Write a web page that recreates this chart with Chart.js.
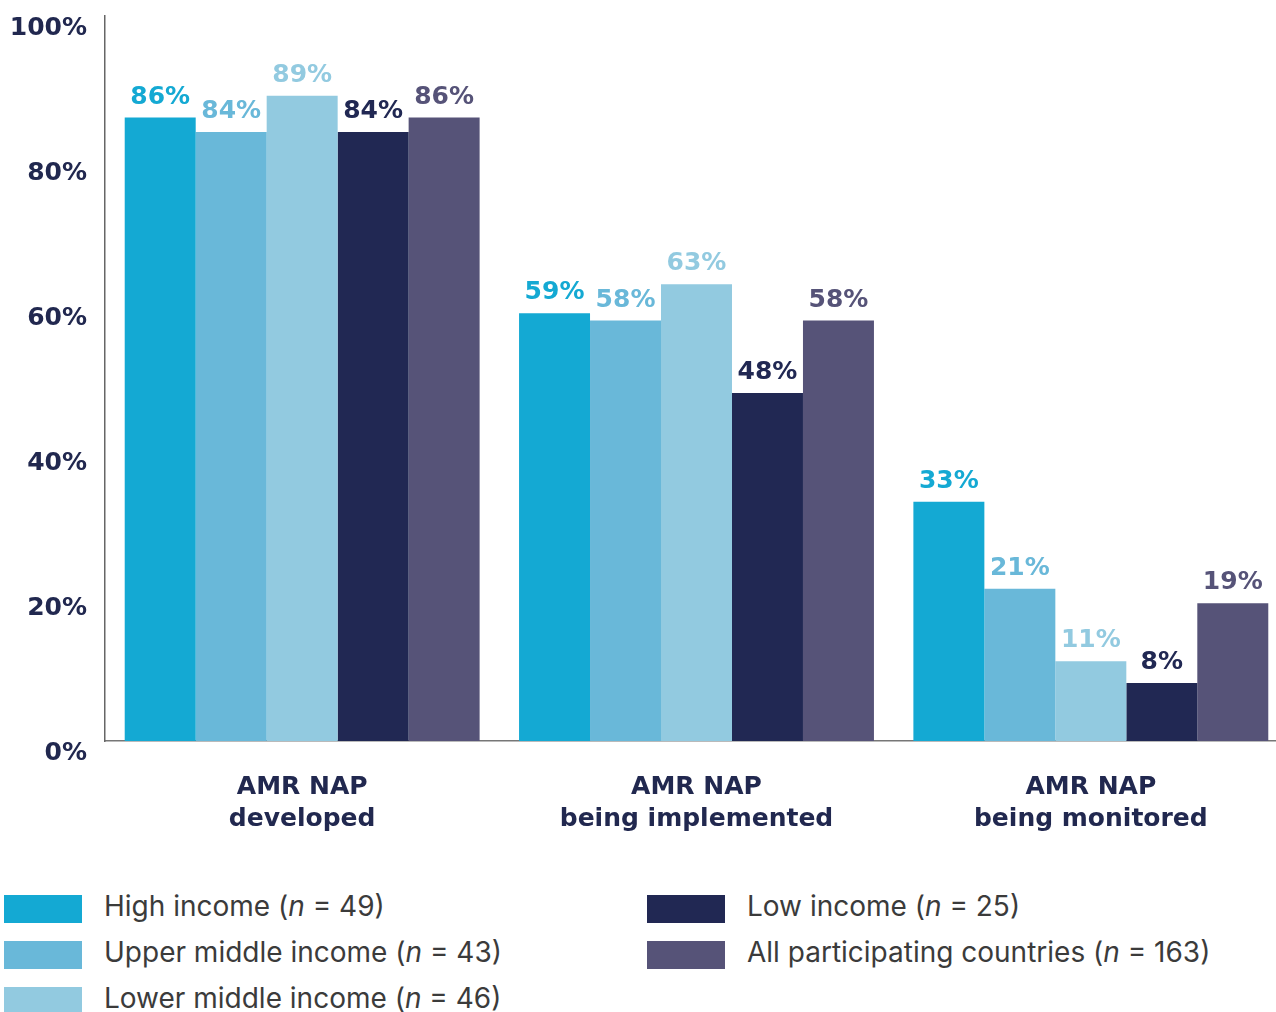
<!DOCTYPE html>
<html>
<head>
<meta charset="utf-8">
<script src="https://cdn.jsdelivr.net/npm/chart.js@4/dist/chart.umd.min.js"></script>
<style>
  html, body { margin: 0; padding: 0; background: #fff; overflow: hidden; width: 1276px; height: 1012px; }
  #wrap { position: absolute; left: 0; top: 0; width: 1290px; height: 850px; }
  #legend { position: absolute; left: 4px; top: 886px; display: grid;
    grid-template-columns: 643px auto; grid-template-rows: repeat(3, 46px); grid-auto-flow: column;
    font-family: Inter, "Open Sans", sans-serif; font-size: 28px; color: #3b3b3b; }
  .item { display: flex; align-items: center; white-space: nowrap; }
  .box { width: 78px; height: 28px; margin-right: 22px; flex: none; }
  .txt { position: relative; top: -3px; }
</style>
</head>
<body>
<div id="wrap"><canvas id="c" width="1290" height="850"></canvas></div>
<div id="legend"></div>
<script>
const categories = [['AMR NAP', 'developed'], ['AMR NAP', 'being implemented'], ['AMR NAP', 'being monitored']];
const seriesNames = ['High income', 'Upper middle income', 'Lower middle income', 'Low income', 'All participating countries'];
const seriesN = [49, 43, 46, 25, 163];
const highIncome = [86, 59, 33];
const upperMiddleIncome = [84, 58, 21];
const lowerMiddleIncome = [89, 63, 11];
const lowIncome = [84, 48, 8];
const allCountries = [86, 58, 19];
const yTicks = [0, 20, 40, 60, 80, 100];
const colors = ['#14a9d3', '#69b8d9', '#92cae0', '#212853', '#565378'];

const seriesValues = [highIncome, upperMiddleIncome, lowerMiddleIncome, lowIncome, allCountries];
const datasets = seriesValues.map((vals, i) => ({
  label: seriesNames[i] + ' (n = ' + seriesN[i] + ')',
  data: vals,
  backgroundColor: colors[i],
  borderWidth: 0,
  categoryPercentage: 0.9,
  barPercentage: 1.0
}));

const LABEL_FONT = 'bold 25px "DejaVu Sans", sans-serif';

const valueLabels = {
  id: 'valueLabels',
  afterDatasetsDraw(chart) {
    const ctx = chart.ctx;
    ctx.save();
    ctx.font = LABEL_FONT;
    ctx.textAlign = 'center';
    ctx.textBaseline = 'alphabetic';
    chart.data.datasets.forEach((ds, di) => {
      const meta = chart.getDatasetMeta(di);
      meta.data.forEach((bar, i) => {
        ctx.fillStyle = ds.backgroundColor;
        ctx.fillText(ds.data[i] + '%', bar.x, bar.y - 14);
      });
    });
    ctx.restore();
  }
};

const htmlLegend = {
  id: 'htmlLegend',
  afterUpdate(chart) {
    const el = document.getElementById('legend');
    el.innerHTML = '';
    chart.data.datasets.forEach((ds, i) => {
      const item = document.createElement('div');
      item.className = 'item';
      const box = document.createElement('span');
      box.className = 'box';
      box.style.background = ds.backgroundColor;
      const txt = document.createElement('span');
      txt.className = 'txt';
      txt.innerHTML = seriesNames[i] + ' (<i>n</i> = ' + seriesN[i] + ')';
      item.appendChild(box);
      item.appendChild(txt);
      el.appendChild(item);
    });
  }
};

new Chart(document.getElementById('c'), {
  type: 'bar',
  data: { labels: categories, datasets: datasets },
  options: {
    responsive: false,
    animation: false,
    devicePixelRatio: 1,
    layout: { padding: { left: 10, right: 2, top: 16, bottom: 9 } },
    plugins: { legend: { display: false }, tooltip: { enabled: false } },
    scales: {
      x: {
        afterFit(s) { s.height = 100; s.paddingLeft = 0; s.paddingRight = 0; },
        grid: { display: false, drawTicks: false },
        border: { display: true, color: '#777', width: 1.5 },
        ticks: { color: '#21284f', font: { family: 'DejaVu Sans', size: 25, weight: 'bold', lineHeight: 1.28 }, padding: 30 }
      },
      y: {
        min: 0, max: 100,
        afterBuildTicks(scale) { scale.ticks = yTicks.map(v => ({ value: v })); },
        afterFit(s) { s.width = 95; s.paddingTop = 0; s.paddingBottom = 0; },
        grid: { display: false, drawTicks: false },
        border: { display: true, color: '#666', width: 1.5 },
        ticks: {
          color: '#21284f', padding: 18, labelOffset: 12,
          font: { family: 'DejaVu Sans', size: 25, weight: 'bold' },
          callback: v => v + '%'
        }
      }
    }
  },
  plugins: [valueLabels, htmlLegend]
});
</script>
</body>
</html>
